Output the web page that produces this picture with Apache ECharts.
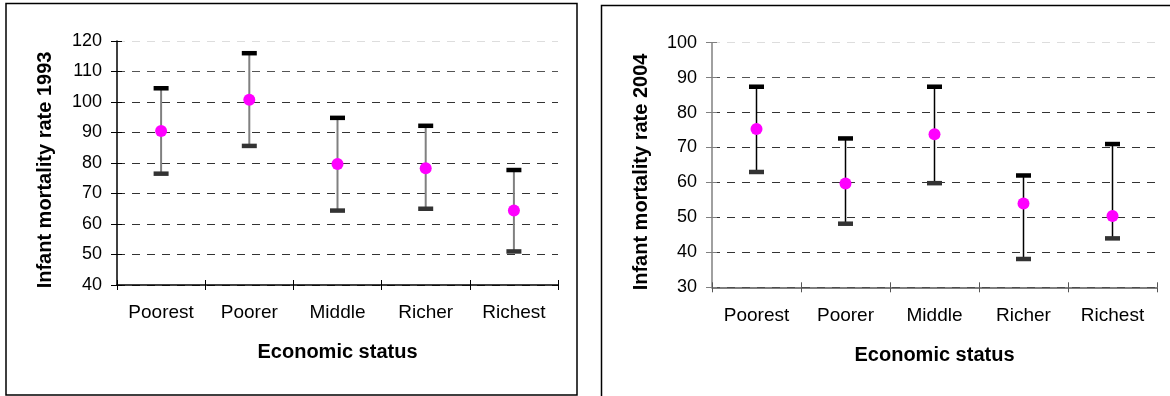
<!DOCTYPE html>
<html>
<head>
<meta charset="utf-8">
<script src="https://cdn.jsdelivr.net/npm/echarts@6/dist/echarts.min.js"></script>
<style>
  html, body { margin: 0; padding: 0; background: #fff; }
  #chart { width: 1170px; height: 396px; }
</style>
</head>
<body>
<div id="chart"></div>
<script>
// categories on the x axis
const categories = ["Poorest", "Poorer", "Middle", "Richer", "Richest"];

// 1993 values
const mean1993 = [90.5, 100.7, 79.7, 78.3, 64.4];
const upper1993 = [104.5, 116, 94.8, 92.2, 77.7];
const lower1993 = [76.5, 85.6, 64.4, 65, 51];

// 2004 values
const mean2004 = [75.3, 59.7, 73.8, 54, 50.4];
const upper2004 = [87.4, 72.6, 87.4, 62, 71];
const lower2004 = [63, 48.2, 59.8, 38.1, 44];

const font = "'Liberation Sans', Arial, sans-serif";

let chartDom = document.getElementById("chart");
let myChart = echarts.init(chartDom, null, { renderer: "canvas" });

// build [index, low, high] rows for the error bar series
function barRows(lower, upper) {
  return categories.map(function (c, i) {
    return [i, lower[i], upper[i]];
  });
}

function errorBar(lineColor, lineWidth) {
  return function (params, api) {
    let idx = api.value(0);
    let lo = api.coord([idx, api.value(1)]);
    let hi = api.coord([idx, api.value(2)]);
    let capW = 15;
    let capH = 4.5;
    return {
      type: "group",
      children: [
        {
          type: "line",
          shape: { x1: lo[0], y1: lo[1], x2: hi[0], y2: hi[1] },
          style: { stroke: lineColor, lineWidth: lineWidth },
        },
        {
          type: "rect",
          shape: { x: hi[0] - capW / 2, y: hi[1] - capH / 2, width: capW, height: capH },
          style: { fill: "#000" },
        },
        {
          type: "rect",
          shape: { x: lo[0] - capW / 2, y: lo[1] - capH / 2, width: capW, height: capH },
          style: { fill: "#333" },
        },
      ],
    };
  };
}

function yAxisFor(gridIndex, min, max, name, axisColor, splitColors, gap) {
  return {
    type: "value",
    gridIndex: gridIndex,
    position: "left",
    min: min,
    max: max,
    interval: 10,
    name: name,
    nameLocation: "middle",
    nameGap: gap,
    nameTextStyle: {
      fontFamily: font,
      fontSize: 20,
      fontWeight: "bold",
      color: "#000",
      padding: [0, 14, 0, 0],
    },
    axisLine: { show: true, lineStyle: { color: axisColor, width: 1.5 } },
    axisTick: { show: true, length: 6, lineStyle: { color: axisColor } },
    axisLabel: { fontFamily: font, fontSize: 18, color: "#000", margin: 15 },
    splitLine: {
      show: true,
      lineStyle: { color: splitColors, type: [8, 7], width: 1 },
    },
  };
}

// second y axis on the same grid, only for ticks that cross the axis line
function yInner(gridIndex, min, max, axisColor) {
  return {
    type: "value",
    gridIndex: gridIndex,
    position: "left",
    min: min,
    max: max,
    interval: 10,
    axisLine: { show: false },
    axisTick: { show: true, inside: true, length: 5, lineStyle: { color: axisColor } },
    axisLabel: { show: false },
    splitLine: { show: false },
  };
}

function xAxisFor(gridIndex, axisColor, labelMargin, gap) {
  return {
    type: "category",
    gridIndex: gridIndex,
    position: "bottom",
    data: categories,
    boundaryGap: true,
    name: "Economic status",
    nameLocation: "middle",
    nameGap: gap,
    nameTextStyle: { fontFamily: font, fontSize: 20, fontWeight: "bold", color: "#000" },
    axisLine: { show: true, lineStyle: { color: axisColor, width: 1.5 } },
    axisTick: { show: true, length: 5, alignWithLabel: false, lineStyle: { color: axisColor } },
    axisLabel: { fontFamily: font, fontSize: 19, color: "#000", margin: labelMargin },
    splitLine: { show: false },
  };
}

function xInner(gridIndex, axisColor) {
  return {
    type: "category",
    gridIndex: gridIndex,
    position: "bottom",
    data: categories,
    boundaryGap: true,
    axisLine: { show: false },
    axisTick: { show: true, inside: true, length: 5, alignWithLabel: false, lineStyle: { color: axisColor } },
    axisLabel: { show: false },
    splitLine: { show: false },
  };
}

let split1993 = ["#333", "#333", "#333", "#333", "#333", "#333", "#333", "#555", "#ddd"];
let split2004 = ["#333", "#333", "#333", "#333", "#333", "#333", "#555", "#ddd"];

let option = {
  backgroundColor: "#fff",
  animation: false,
  graphic: [
    {
      type: "rect",
      shape: { x: 6, y: 3.5, width: 571, height: 391.5 },
      style: { fill: null, stroke: "#000", lineWidth: 1.5 },
      z: 100,
    },
    {
      type: "rect",
      shape: { x: 601.5, y: 5.5, width: 600, height: 400 },
      style: { fill: null, stroke: "#000", lineWidth: 1.5 },
      z: 100,
    },
  ],
  grid: [
    { left: 117, top: 41, right: 612, bottom: 111 },
    { left: 712, top: 42.7, right: 13, bottom: 108.7 },
  ],
  xAxis: [
    xAxisFor(0, "#000", 18, 57),
    xAxisFor(1, "#555", 19, 58),
    xInner(0, "#000"),
    xInner(1, "#555"),
  ],
  yAxis: [
    yAxisFor(0, 40, 120, "Infant mortality rate 1993", "#000", split1993, 62),
    yAxisFor(1, 30, 100, "Infant mortality rate 2004", "#808080", split2004, 61),
    yInner(0, 40, 120, "#000"),
    yInner(1, 30, 100, "#808080"),
  ],
  series: [
    {
      type: "custom",
      xAxisIndex: 0,
      yAxisIndex: 0,
      renderItem: errorBar("#808080", 2),
      data: barRows(lower1993, upper1993),
      z: 2,
    },
    {
      type: "scatter",
      xAxisIndex: 0,
      yAxisIndex: 0,
      symbolSize: 12,
      itemStyle: { color: "#ff00ff", opacity: 1 },
      data: mean1993,
      z: 3,
    },
    {
      type: "custom",
      xAxisIndex: 1,
      yAxisIndex: 1,
      renderItem: errorBar("#000", 1.5),
      data: barRows(lower2004, upper2004),
      z: 2,
    },
    {
      type: "scatter",
      xAxisIndex: 1,
      yAxisIndex: 1,
      symbolSize: 12,
      itemStyle: { color: "#ff00ff", opacity: 1 },
      data: mean2004,
      z: 3,
    },
  ],
};

myChart.setOption(option);
</script>
</body>
</html>
